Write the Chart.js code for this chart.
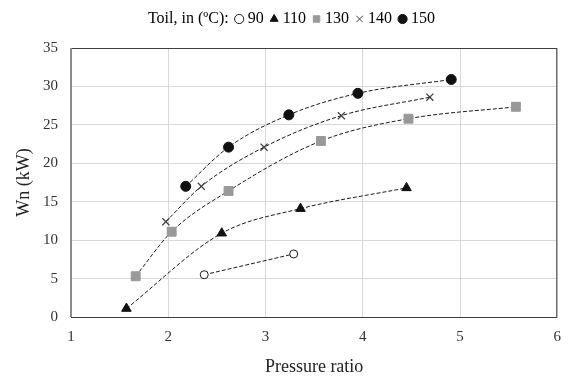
<!DOCTYPE html>
<html>
<head>
<meta charset="utf-8">
<script src="https://cdn.jsdelivr.net/npm/chart.js@4.4.1/dist/chart.umd.min.js"></script>
<style>
  html, body { margin: 0; padding: 0; background: #fff; }
  #wrap { width: 572px; height: 381px; }
</style>
</head>
<body>
<div id="wrap"><canvas id="wnChart"></canvas></div>
<script>
// Pressure ratio (x) and Wn in kW (y), one pair of arrays per oil temperature
const p90 = [2.37, 3.29];
const wn90 = [5.5, 8.2];

const p110 = [1.57, 2.55, 3.36, 4.45];
const wn110 = [1.1, 10.9, 14.1, 16.8];

const p130 = [1.665, 2.035, 2.62, 3.57, 4.47, 5.575];
const wn130 = [5.3, 11.1, 16.4, 22.9, 25.8, 27.35];

const p140 = [1.975, 2.34, 2.985, 3.78, 4.69];
const wn140 = [12.4, 17.0, 22.1, 26.2, 28.6];

const p150 = [2.18, 2.62, 3.24, 3.95, 4.91];
const wn150 = [17.0, 22.1, 26.3, 29.1, 30.9];

const legendTitle = 'Toil, in (ºC):';
const xTicks = [1, 2, 3, 4, 5, 6];
const yTicks = [0, 5, 10, 15, 20, 25, 30, 35];

const FONT = "'Liberation Serif', 'Times New Roman', serif";

function toPoints(xs, ys) {
    return xs.map((x, i) => ({ x: x, y: ys[i] }));
}

function makeSeries(label, xs, ys, style, fill, stroke, radius) {
    return {
        label: label,
        data: toPoints(xs, ys),
        showLine: true,
        borderColor: '#1a1a1a',
        borderWidth: 1,
        borderDash: [4, 2],
        cubicInterpolationMode: 'monotone',
        pointStyle: style,
        pointRadius: radius,
        pointBackgroundColor: fill,
        pointBorderColor: stroke,
        pointBorderWidth: 1,
        // legend marker colours
        backgroundColor: fill,
        legendStroke: stroke
    };
}

const datasets = [
    makeSeries('90', p90, wn90, 'circle', '#ffffff', '#1a1a1a', 4),
    makeSeries('110', p110, wn110, 'triangle', '#111111', '#111111', 5.5),
    makeSeries('130', p130, wn130, 'rect', '#999999', '#999999', 6.3),
    makeSeries('140', p140, wn140, 'crossRot', '#404040', '#404040', 5),
    makeSeries('150', p150, wn150, 'circle', '#111111', '#111111', 5)
];
datasets[3].pointBorderWidth = 1.3;

// plot frame (top / right / bottom edges) and extra room under the legend
const frame = {
    id: 'frame',
    beforeUpdate(chart) {
        const lg = chart.legend;
        if (lg && !lg._patched) {
            const fit = lg.fit;
            lg.fit = function () {
                fit.call(this);
                this.height += 11;
            };
            lg._patched = true;
        }
    },
    afterDatasetsDraw(chart) {
        const a = chart.chartArea;
        const ctx = chart.ctx;
        ctx.save();
        ctx.strokeStyle = '#404040';
        ctx.lineWidth = 1;
        ctx.strokeRect(a.left + 0.5, a.top + 0.5, a.right - a.left - 1, a.bottom - a.top);
        ctx.strokeStyle = '#8c8c8c';
        ctx.lineWidth = 2;
        ctx.beginPath();
        ctx.moveTo(a.left, a.top);
        ctx.lineTo(a.left, a.bottom);
        ctx.stroke();
        ctx.restore();
    }
};

new Chart(document.getElementById('wnChart').getContext('2d'), {
    type: 'scatter',
    data: { datasets: datasets },
    plugins: [frame],
    options: {
        responsive: true,
        maintainAspectRatio: false,
        animation: false,
        layout: { padding: { left: 12, right: 10, top: 1, bottom: 0 } },
        scales: {
            x: {
                type: 'linear',
                min: 1,
                max: 6,
                afterBuildTicks: (scale) => { scale.ticks = xTicks.map(v => ({ value: v })); },
                afterFit: (scale) => { scale.height = 64; },
                grid: { color: '#d9d9d9', drawTicks: false },
                border: { display: false },
                ticks: { padding: 11, color: '#333333', font: { family: FONT, size: 15 } },
                title: {
                    display: true,
                    text: 'Pressure ratio',
                    color: '#222222',
                    padding: { top: 0, bottom: 3 },
                    font: { family: FONT, size: 18 }
                }
            },
            y: {
                min: 0,
                max: 35,
                afterBuildTicks: (scale) => { scale.ticks = yTicks.map(v => ({ value: v })); },
                afterFit: (scale) => { scale.width = 59; },
                grid: { color: '#d9d9d9', drawTicks: false },
                border: { display: false },
                ticks: { padding: 13, color: '#333333', font: { family: FONT, size: 15 } },
                title: {
                    display: true,
                    text: 'Wn (kW)',
                    color: '#222222',
                    padding: { top: 1, bottom: 0 },
                    font: { family: FONT, size: 18 }
                }
            }
        },
        plugins: {
            legend: {
                display: true,
                position: 'top',
                labels: {
                    usePointStyle: true,
                    boxWidth: 1,
                    boxHeight: 6.5,
                    padding: 10,
                    color: '#111111',
                    font: { family: FONT, size: 16 },
                    generateLabels: (chart) => {
                        const items = [{
                            text: legendTitle,
                            fillStyle: 'rgba(0,0,0,0)',
                            strokeStyle: 'rgba(0,0,0,0)',
                            lineWidth: 0,
                            pointStyle: 'circle',
                            hidden: false,
                            datasetIndex: -1
                        }];
                        chart.data.datasets.forEach((ds, i) => {
                            items.push({
                                text: ds.label,
                                fillStyle: ds.backgroundColor,
                                strokeStyle: ds.legendStroke,
                                lineWidth: 1,
                                pointStyle: ds.pointStyle,
                                hidden: false,
                                datasetIndex: i
                            });
                        });
                        return items;
                    }
                },
                onClick: () => {}
            },
            tooltip: { enabled: false }
        }
    }
});
</script>
</body>
</html>
